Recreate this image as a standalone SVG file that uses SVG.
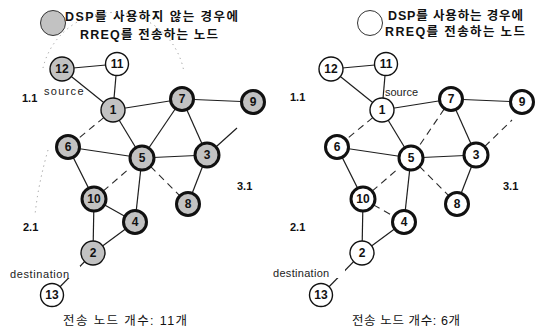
<svg xmlns="http://www.w3.org/2000/svg" width="541" height="328" viewBox="0 0 541 328">
  <style>
    .edge { stroke: #1e1e1e; stroke-width: 1.2; fill: none; }
    .dash { stroke: #2a2a2a; stroke-width: 1.1; stroke-dasharray: 7 5; fill: none; }
    .range { stroke: #9a9a9a; stroke-width: 1; stroke-dasharray: 1.2 4; fill: none; }
    .n circle { stroke: #111; }
    .gray { fill: #c2c2c2; }
    .white { fill: #fff; }
    .thin { stroke-width: 1.4; }
    .thick { stroke-width: 3; }
    .num { font-family: "Liberation Sans", Arial, sans-serif; font-weight: bold; font-size: 12px; fill: #111; text-anchor: middle; dominant-baseline: central; }
    .lbl { font-family: "Liberation Sans", Arial, sans-serif; font-size: 11px; fill: #222; }
    .rng { font-family: "Liberation Sans", Arial, sans-serif; font-weight: bold; font-size: 11px; fill: #111; }
    .kr { font-family: "Liberation Sans", "Noto Sans CJK KR", sans-serif; font-size: 12.5px; fill: #111; }
    .krb { font-family: "Liberation Sans", "Noto Sans CJK KR", sans-serif; font-size: 12.5px; font-weight: bold; fill: #111; }
  </style>
  <rect width="541" height="328" fill="#fff"/>

  <!-- ============ left panel: without DSP ============ -->
  <g id="legend-left">
    <circle cx="53" cy="23" r="12.5" class="gray" stroke="#333" stroke-width="1"/>
    <text class="krb" x="65" y="21" textLength="173">DSP를 사용하지 않는 경우에</text>
    <text class="krb" x="80" y="39" textLength="138">RREQ를 전송하는 노드</text>
  </g>

  <g id="ranges-left">
    <path class="range" d="M43,68 A72,72 0 0 1 184,72"/>
    <path class="range" d="M48,150 Q38,185 35,215"/>
  </g>

  <g id="edges-left">
    <line class="edge" x1="62" y1="69" x2="117" y2="64"/>
    <line class="edge" x1="62" y1="69" x2="113" y2="110"/>
    <line class="edge" x1="117" y1="64" x2="113" y2="110"/>
    <line class="edge" x1="113" y1="110" x2="182" y2="99"/>
    <line class="edge" x1="182" y1="99" x2="253" y2="102"/>
    <line class="dash" x1="113" y1="110" x2="68" y2="147"/>
    <line class="edge" x1="113" y1="110" x2="142" y2="158"/>
    <line class="edge" x1="182" y1="99" x2="142" y2="158"/>
    <line class="edge" x1="182" y1="99" x2="207" y2="155"/>
    <line class="edge" x1="207" y1="155" x2="237" y2="128"/>
    <line class="edge" x1="68" y1="147" x2="142" y2="158"/>
    <line class="edge" x1="142" y1="158" x2="207" y2="155"/>
    <line class="edge" x1="68" y1="147" x2="94" y2="199"/>
    <line class="dash" x1="94" y1="199" x2="130" y2="168"/>
    <line class="edge" x1="142" y1="158" x2="135" y2="222"/>
    <line class="dash" x1="142" y1="158" x2="188" y2="204"/>
    <line class="edge" x1="207" y1="155" x2="188" y2="204"/>
    <line class="edge" x1="94" y1="199" x2="135" y2="222"/>
    <line class="edge" x1="94" y1="199" x2="93" y2="253"/>
    <line class="edge" x1="135" y1="222" x2="93" y2="253"/>
    <line class="edge" x1="93" y1="253" x2="52" y2="295"/>
  </g>

  <g id="labels-left">
    <text class="rng" x="22" y="102">1.1</text>
    <text class="lbl" x="44" y="95" letter-spacing="1.3">source</text>
    <text class="rng" x="237" y="190">3.1</text>
    <text class="rng" x="23" y="231">2.1</text>
    <rect x="10" y="266" width="70" height="12" fill="#fff"/>
    <text class="lbl" x="10" y="278" letter-spacing="0.6">destination</text>
    <text class="kr" x="63" y="325" textLength="124">전송 노드 개수: 11개</text>
  </g>

  <g id="L12" class="n"><circle cx="62" cy="69" r="12" class="gray thin"/><text class="num" x="62" y="69">12</text></g>
  <g id="L11" class="n"><circle cx="117" cy="64" r="11.5" class="white thin"/><text class="num" x="117" y="64">11</text></g>
  <g id="L1" class="n"><circle cx="113" cy="110" r="12" class="gray thin"/><text class="num" x="113" y="110">1</text></g>
  <g id="L7" class="n"><circle cx="182" cy="99" r="11.5" class="gray thick"/><text class="num" x="182" y="99">7</text></g>
  <g id="L9" class="n"><circle cx="253" cy="102" r="11.5" class="gray thick"/><text class="num" x="253" y="102">9</text></g>
  <g id="L6" class="n"><circle cx="68" cy="147" r="11.5" class="gray thick"/><text class="num" x="68" y="147">6</text></g>
  <g id="L5" class="n"><circle cx="142" cy="158" r="12" class="gray thick"/><text class="num" x="142" y="158">5</text></g>
  <g id="L3" class="n"><circle cx="207" cy="155" r="12" class="gray thick"/><text class="num" x="207" y="155">3</text></g>
  <g id="L10" class="n"><circle cx="94" cy="199" r="12" class="gray thick"/><text class="num" x="94" y="199">10</text></g>
  <g id="L8" class="n"><circle cx="188" cy="204" r="11.5" class="gray thick"/><text class="num" x="188" y="204">8</text></g>
  <g id="L4" class="n"><circle cx="135" cy="222" r="11.5" class="gray thick"/><text class="num" x="135" y="222">4</text></g>
  <g id="L2" class="n"><circle cx="93" cy="253" r="12" class="gray thin"/><text class="num" x="93" y="253">2</text></g>
  <g id="L13" class="n"><circle cx="52" cy="295" r="11.5" class="white thin"/><text class="num" x="52" y="295">13</text></g>

  <!-- ============ right panel: with DSP ============ -->
  <g id="legend-right">
    <circle cx="370" cy="23" r="12.5" class="white" stroke="#333" stroke-width="1"/>
    <text class="krb" x="388" y="20" textLength="135">DSP를 사용하는 경우에</text>
    <text class="krb" x="385" y="36" textLength="140">RREQ를  전송하는 노드</text>
  </g>

  <g id="edges-right">
    <line class="edge" x1="331" y1="69" x2="386" y2="64"/>
    <line class="edge" x1="331" y1="69" x2="382" y2="110"/>
    <line class="edge" x1="386" y1="64" x2="382" y2="110"/>
    <line class="edge" x1="382" y1="110" x2="451" y2="99"/>
    <line class="edge" x1="451" y1="99" x2="522" y2="102"/>
    <line class="dash" x1="382" y1="110" x2="337" y2="147"/>
    <line class="edge" x1="382" y1="110" x2="411" y2="158"/>
    <line class="dash" x1="451" y1="99" x2="411" y2="158"/>
    <line class="edge" x1="451" y1="99" x2="476" y2="155"/>
    <line class="dash" x1="476" y1="155" x2="512" y2="120"/>
    <line class="edge" x1="337" y1="147" x2="411" y2="158"/>
    <line class="edge" x1="411" y1="158" x2="476" y2="155"/>
    <line class="edge" x1="337" y1="147" x2="363" y2="199"/>
    <line class="dash" x1="363" y1="199" x2="399" y2="168"/>
    <line class="edge" x1="411" y1="158" x2="404" y2="222"/>
    <line class="dash" x1="411" y1="158" x2="457" y2="204"/>
    <line class="edge" x1="476" y1="155" x2="457" y2="204"/>
    <line class="dash" x1="363" y1="199" x2="404" y2="222"/>
    <line class="edge" x1="363" y1="199" x2="362" y2="253"/>
    <line class="edge" x1="404" y1="222" x2="362" y2="253"/>
    <line class="edge" x1="362" y1="253" x2="321" y2="295"/>
  </g>

  <g id="labels-right">
    <text class="rng" x="290" y="101">1.1</text>
    <text class="lbl" x="385" y="96" font-size="10">source</text>
    <text class="rng" x="503" y="190">3.1</text>
    <text class="rng" x="290" y="231">2.1</text>
    <rect x="273" y="266" width="72" height="12" fill="#fff"/>
    <text class="lbl" x="273" y="277" letter-spacing="0.3">destination</text>
    <text class="kr" x="352" y="325" textLength="108">전송 노드 개수: 6개</text>
  </g>

  <g id="R12" class="n"><circle cx="331" cy="69" r="12" class="white thin"/><text class="num" x="331" y="69">12</text></g>
  <g id="R11" class="n"><circle cx="386" cy="64" r="11.5" class="white thin"/><text class="num" x="386" y="64">11</text></g>
  <g id="R1" class="n"><circle cx="382" cy="110" r="12" class="white thin"/><text class="num" x="382" y="110">1</text></g>
  <g id="R7" class="n"><circle cx="451" cy="99" r="11.5" class="white thick"/><text class="num" x="451" y="99">7</text></g>
  <g id="R9" class="n"><circle cx="522" cy="102" r="11.5" class="white thick"/><text class="num" x="522" y="102">9</text></g>
  <g id="R6" class="n"><circle cx="337" cy="147" r="11.5" class="white thick"/><text class="num" x="337" y="147">6</text></g>
  <g id="R5" class="n"><circle cx="411" cy="158" r="12" class="white thick"/><text class="num" x="411" y="158">5</text></g>
  <g id="R3" class="n"><circle cx="476" cy="155" r="12" class="white thick"/><text class="num" x="476" y="155">3</text></g>
  <g id="R10" class="n"><circle cx="363" cy="199" r="12" class="white thick"/><text class="num" x="363" y="199">10</text></g>
  <g id="R8" class="n"><circle cx="457" cy="204" r="11.5" class="white thick"/><text class="num" x="457" y="204">8</text></g>
  <g id="R4" class="n"><circle cx="404" cy="222" r="11.5" class="white thick"/><text class="num" x="404" y="222">4</text></g>
  <g id="R2" class="n"><circle cx="362" cy="253" r="12" class="white thin"/><text class="num" x="362" y="253">2</text></g>
  <g id="R13" class="n"><circle cx="321" cy="295" r="11.5" class="white thin"/><text class="num" x="321" y="295">13</text></g>
</svg>
